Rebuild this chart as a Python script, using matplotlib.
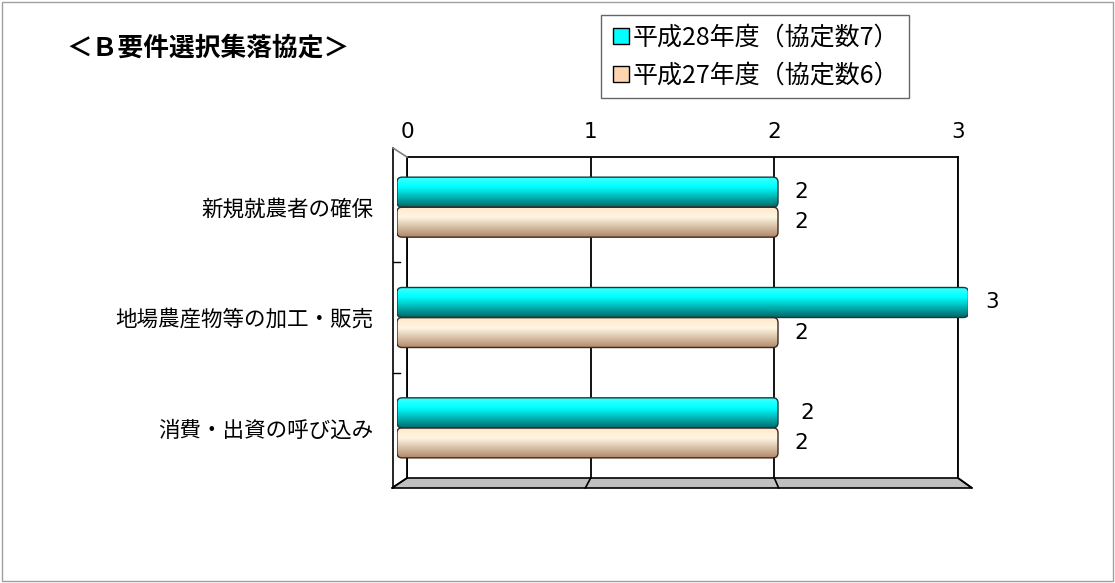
import matplotlib
matplotlib.use("Agg")
import matplotlib.pyplot as plt
import numpy as np
from matplotlib.patches import FancyBboxPatch, Rectangle, Polygon
from matplotlib.lines import Line2D
from matplotlib.colors import to_rgb

plt.rcParams['font.family'] = ['Noto Sans CJK JP', 'DejaVu Sans']

# ---- data ----
title = "＜Ｂ要件選択集落協定＞"
categories = ["新規就農者の確保", "地場農産物等の加工・販売", "消費・出資の呼び込み"]
series_names = ["平成28年度（協定数7）", "平成27年度（協定数6）"]
values_h28 = [2, 3, 2]
values_h27 = [2, 2, 2]
xticks = [0, 1, 2, 3]

W, H = 1115, 583
fig = plt.figure(figsize=(W / 100, H / 100), dpi=100)
fig.patch.set_facecolor("white")

def fx(x):
    return x / W

def fy(y):
    return 1 - y / H

# outer border
fig.add_artist(Rectangle((fx(2), fy(581)), fx(1111), 579 / H,
                         transform=fig.transFigure, fill=False, edgecolor="#a0a0a0", lw=1))

# back wall axes
ax_back = fig.add_axes([fx(407), fy(478), fx(958 - 407), (478 - 157) / H])
ax_back.set_xlim(0, 3)
ax_back.set_ylim(0, 1)
ax_back.set_xticks(xticks)
ax_back.set_xticklabels([str(t) for t in xticks], fontsize=15.5, family="DejaVu Sans")
ax_back.xaxis.tick_top()
ax_back.tick_params(axis="x", length=0, pad=11)
ax_back.set_yticks([])
for t in xticks:
    ax_back.axvline(t, color="black", lw=1.3, zorder=1)
for s in ["top", "right", "left"]:
    ax_back.spines[s].set_color("black")
    ax_back.spines[s].set_linewidth(1.3)
ax_back.spines["bottom"].set_visible(False)

# floor
floor = Polygon([(fx(407), fy(478)), (fx(958), fy(478)), (fx(972), fy(488)), (fx(392), fy(488))],
                closed=True, transform=fig.transFigure, facecolor="#c0c0c0", edgecolor="black", lw=1.2)
fig.add_artist(floor)
for t in xticks:
    xb = 407 + t * (958 - 407) / 3
    xf = 392 + t * (972 - 392) / 3
    fig.add_artist(Line2D([fx(xb), fx(xf)], [fy(478), fy(488)], transform=fig.transFigure, color="black", lw=1.2))

# left wall
fig.add_artist(Line2D([fx(393), fx(393)], [fy(148), fy(488)], transform=fig.transFigure, color="black", lw=1.2))
fig.add_artist(Line2D([fx(393), fx(407)], [fy(148), fy(157)], transform=fig.transFigure, color="#808080", lw=1.2))

# bars axes (front plane)
ax = fig.add_axes([fx(397), fy(483), fx(968.5 - 397), (483 - 152) / H])
ax.patch.set_alpha(0)
for s in ax.spines.values():
    s.set_visible(False)
ax.set_xlim(0, 3)
ax.set_ylim(len(categories) - 0.5, -0.5)
ax.set_xticks([])
ax.set_yticks(range(len(categories)))
ax.set_yticklabels(categories, fontsize=15.5)
ax.tick_params(axis="y", length=0, pad=17)

# category separator ticks on the left wall
for b in [0.5, 1.5]:
    ax.plot([-0.02, 0.015], [b, b], color="black", lw=1, clip_on=False)

bh = 0.272

def gradient(top, mid, bottom, n=64):
    top, mid, bottom = map(np.array, map(to_rgb, (top, mid, bottom)))
    t = np.linspace(0, 1, n)
    cols = np.empty((n, 1, 3))
    for i, tt in enumerate(t):
        if tt < 0.35:
            c = top + (mid - top) * (tt / 0.35)
        else:
            c = mid + (bottom - mid) * ((tt - 0.35) / 0.65)
        cols[i, 0] = c
    return cols

grad_cyan = gradient("#40ffff", "#00ffff", "#006a6a")
grad_beige = gradient("#ffe6c8", "#fff6e2", "#b08868")

xpx = 3 / (968.5 - 397)
ypx = (len(categories)) / (483 - 152)
rs = 5 * xpx
masp = ypx / xpx

def draw_bar(v, yc, grad, edge):
    patch = FancyBboxPatch((0, yc - bh / 2), v, bh,
                           boxstyle=f"round,pad=0,rounding_size={rs}",
                           mutation_aspect=masp, facecolor="none", edgecolor=edge, lw=1.0, zorder=4)
    ax.add_patch(patch)
    im = ax.imshow(grad, extent=[0, v, yc + bh / 2, yc - bh / 2], aspect="auto", origin="upper", zorder=3,
                   interpolation="bilinear")
    im.set_clip_path(patch)

for i, (v28, v27) in enumerate(zip(values_h28, values_h27)):
    y28 = i - bh / 2
    y27 = i + bh / 2
    draw_bar(v28, y28, grad_cyan, "#1a3a3a")
    draw_bar(v27, y27, grad_beige, "#3a2a20")
    ax.annotate(str(v28), (v28, y28), xytext=(12 if i != 2 else 16, 0), textcoords="offset points",
                va="center", ha="left", fontsize=15.5, family="DejaVu Sans", annotation_clip=False)
    ax.annotate(str(v27), (v27, y27), xytext=(12, 0), textcoords="offset points",
                va="center", ha="left", fontsize=15.5, family="DejaVu Sans", annotation_clip=False)

ax.set_xlim(0, 3)
ax.set_ylim(len(categories) - 0.5, -0.5)

# title
fig.text(fx(66), fy(48), title, fontsize=18.5, fontweight="bold", ha="left", va="center")

# legend
handles = [Line2D([], [], marker="s", linestyle="none", markersize=11, markerfacecolor="#00ffff", markeredgecolor="black"),
           Line2D([], [], marker="s", linestyle="none", markersize=11, markerfacecolor="#ffd5b0", markeredgecolor="black")]
leg = fig.legend(handles, series_names, loc="upper left", bbox_to_anchor=(fx(601), fy(15)),
                 bbox_transform=fig.transFigure, borderaxespad=0, fontsize=18, frameon=True, fancybox=False,
                 handletextpad=0.05, handlelength=0.8, labelspacing=0.45, borderpad=0.4)
leg.get_frame().set_edgecolor("#404040")
leg.get_frame().set_linewidth(1.0)

fig.savefig("out.png", dpi=100)
